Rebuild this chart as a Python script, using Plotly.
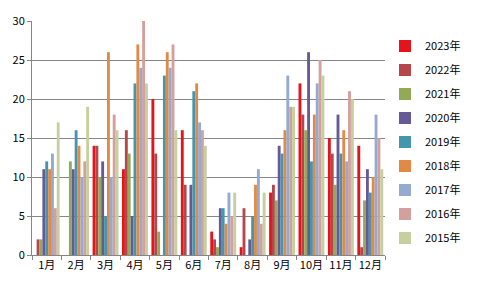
import plotly.graph_objects as go

months = ["1月", "2月", "3月", "4月", "5月", "6月", "7月", "8月", "9月", "10月", "11月", "12月"]
years = ["2023年", "2022年", "2021年", "2020年", "2019年", "2018年", "2017年", "2016年", "2015年"]

v2023 = [0, 0, 14, 11, 20, 16, 3, 1, 8, 22, 15, 14]
v2022 = [2, 0, 14, 16, 13, 9, 2, 6, 9, 18, 13, 1]
v2021 = [2, 12, 10, 13, 3, 0, 1, 0, 7, 16, 9, 7]
v2020 = [11, 11, 12, 5, 0, 9, 6, 2, 14, 26, 18, 11]
v2019 = [12, 16, 5, 22, 23, 21, 6, 5, 13, 12, 13, 8]
v2018 = [11, 14, 26, 27, 26, 22, 4, 9, 16, 18, 16, 10]
v2017 = [13, 10, 10, 24, 24, 17, 8, 11, 23, 22, 12, 18]
v2016 = [6, 12, 18, 30, 27, 16, 5, 4, 19, 25, 21, 15]
v2015 = [17, 19, 16, 22, 16, 14, 8, 8, 19, 23, 20, 11]

series = [v2023, v2022, v2021, v2020, v2019, v2018, v2017, v2016, v2015]
colors = ["#E3141B", "#B5464A", "#93A955", "#655A96", "#4496AE", "#E08A46",
          "#94AACF", "#D4A09E", "#C6CF9F"]

fig = go.Figure()
for name, vals, c in zip(years, series, colors):
    fig.add_trace(go.Bar(x=months, y=vals, name=name, marker_color=c,
                         marker_line_width=0, legendgroup=name))

font = "Noto Sans CJK JP, DejaVu Sans, sans-serif"
fig.update_layout(
    width=478, height=290,
    margin=dict(l=32, r=73, t=13, b=35),
    paper_bgcolor="white", plot_bgcolor="white",
    barmode="group", bargap=0.12, bargroupgap=0,
    font=dict(family=font, size=11, color="#000000"),
    showlegend=True,
    legend=dict(x=1.0, xanchor="left", y=0.955, yanchor="top",
                font=dict(size=11), tracegroupgap=5, itemwidth=30,
                bgcolor="rgba(0,0,0,0)"),
    xaxis=dict(type="category", showgrid=False, showline=True, linecolor="#868686",
               ticks="outside", tickson="boundaries", tickcolor="#868686", ticklen=4,
               tickangle=0, tickfont=dict(size=11)),
    yaxis=dict(range=[0, 30], dtick=5, showgrid=True, gridcolor="#868686",
               showline=True, linecolor="#868686", ticks="outside", tickcolor="#868686",
               ticklen=4, zeroline=False, tickfont=dict(size=11)),
)
fig.write_html("out.html")
